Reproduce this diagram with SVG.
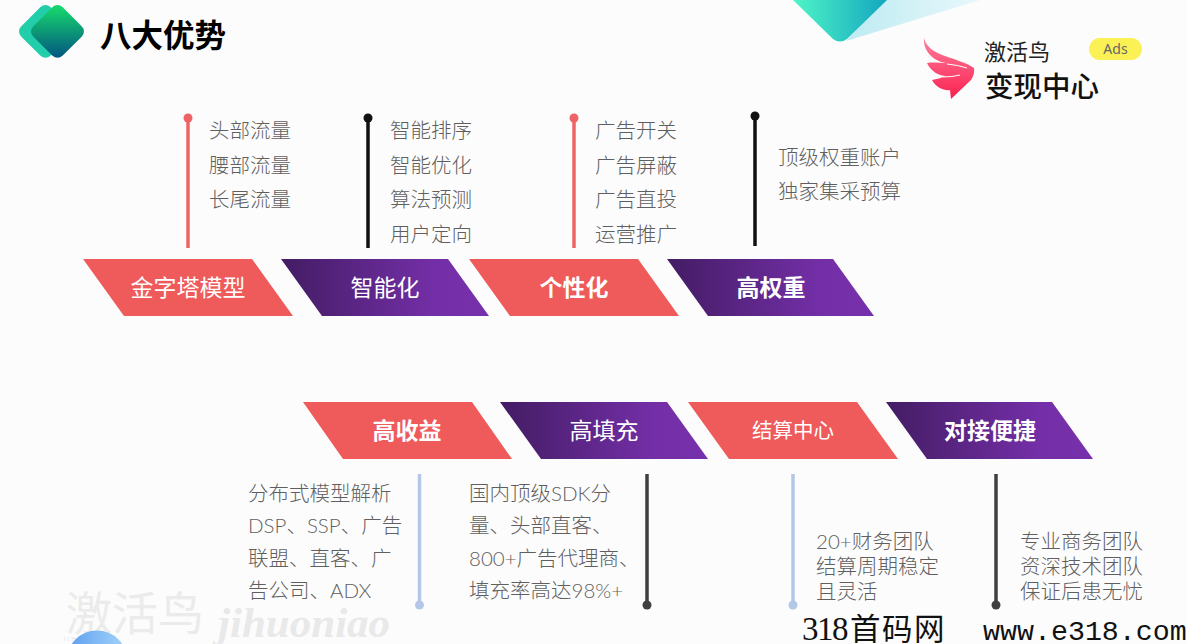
<svg xmlns="http://www.w3.org/2000/svg" width="1187" height="644" viewBox="0 0 1187 644">
<style>
text{font-family:"Noto Sans CJK SC","Noto Sans",sans-serif}
.t{font-size:20.5px;fill:#5f5f5f;font-family:Lato,"Noto Sans CJK SC",sans-serif;font-weight:300}
.l{font-size:23px;fill:#fff;text-anchor:middle}
.b{font-weight:700}
.r{fill:#ef5a5a}
.p{fill:url(#pg)}
.st{stroke-width:3.5;fill:none}
</style>
<defs>
<linearGradient id="pg" x1="0" x2="1" y1="0" y2="0"><stop offset="0" stop-color="#431c63"/><stop offset=".75" stop-color="#742fa8"/><stop offset="1" stop-color="#7730ab"/></linearGradient>
<linearGradient id="dg" x1="0" y1="0" x2="1" y2="1"><stop offset=".1" stop-color="#16d46c"/><stop offset=".9" stop-color="#035c80"/></linearGradient>
<linearGradient id="tg" x1="0" y1="0" x2="1" y2="0"><stop offset="0" stop-color="#4ef5c6"/><stop offset="1" stop-color="#14a6c0"/></linearGradient>
<linearGradient id="sg" x1="0" y1="0" x2="1" y2="0"><stop offset="0" stop-color="#bdebf2"/><stop offset="1" stop-color="#e8f8fb"/></linearGradient>
<linearGradient id="wg" x1="0" y1="0" x2="0" y2="1"><stop offset="0" stop-color="#ff7f9c"/><stop offset="1" stop-color="#fb1f4f"/></linearGradient>
<linearGradient id="cg" x1="0" y1="0" x2="1" y2="0"><stop offset="0" stop-color="#5c9eee"/><stop offset="1" stop-color="#a5d5fb"/></linearGradient>
</defs>
<rect width="1187" height="644" fill="#fcfcfc"/>
<g id="decor-top">
<path d="M846 41L980 0H885Z" fill="url(#sg)"/>
<path d="M793 0H887L847 39Q840 44 833 39Z" fill="url(#tg)"/>
</g>
<g id="watermark">
<text x="66" y="630" font-size="46" fill="#ebebeb">激活鸟</text>
<text x="63" y="641" font-size="7" letter-spacing="1.500" fill="#e6e6e6" style="font-family:'Liberation Serif',serif">JIHUONIAO</text>
<text x="218" y="637" font-size="43" font-style="italic" font-weight="700" style="font-family:'Liberation Serif',serif" fill="#e9e9e9">jihuoniao</text>
<circle cx="97" cy="661" r="30.500" fill="url(#cg)"/>
</g>
<g id="title">
<rect x="24.700" y="10.700" width="41.500" height="41.500" rx="7" transform="rotate(45 45.500 31.500)" fill="#22cdaa"/>
<rect x="36.700" y="10.700" width="41.500" height="41.500" rx="7" transform="rotate(45 57.500 31.500)" fill="url(#dg)"/>
<text x="100" y="47" font-size="31.500" class="b" fill="#000">八大优势</text>
</g>
<g id="brand">
<path d="M924 38C926 47 934 52 945 56C956 60 967 63 974 68Q975 74 971 80L951 99L950 90C945 91 936 88 932 80C936 79 942 78 946 76C940 76 931 72 927 63C933 62 940 63 946 63C934 61 923 52 924 38Z" fill="url(#wg)"/>
<path d="M943 77Q952 77 960 75M947 64Q958 65 967 68" stroke="#fff" stroke-width="1" fill="none"/>
<text x="984" y="60" font-size="22" fill="#222">激活鸟</text>
<text x="985" y="97" font-size="28.500" font-weight="500" fill="#111">变现中心</text>
<rect x="1089" y="38" width="53" height="22" rx="11" fill="#fbf154"/>
<text x="1115.500" y="54" font-size="14" fill="#666" text-anchor="middle" style="font-family:'Noto Sans',sans-serif">Ads</text>
</g>
<g id="connectors">
<path class="st" stroke="#ee6464" d="M188 118V248"/><circle cx="188" cy="118" r="4.500" fill="#ee6464"/>
<path class="st" stroke="#111" d="M368 118V248"/><circle cx="368" cy="118" r="4.500" fill="#111"/>
<path class="st" stroke="#ee6464" d="M574 118V248"/><circle cx="574" cy="118" r="4.500" fill="#ee6464"/>
<path class="st" stroke="#111" d="M755 116V246"/><circle cx="755" cy="116" r="4.500" fill="#111"/>
<path class="st" stroke="#b4c7e7" d="M419.500 474V604"/><circle cx="419.500" cy="605" r="4.500" fill="#b4c7e7"/>
<path class="st" stroke="#404040" d="M647 474V604"/><circle cx="647" cy="605" r="4.500" fill="#404040"/>
<path class="st" stroke="#b4c7e7" d="M793 474V604"/><circle cx="793" cy="605" r="4.500" fill="#b4c7e7"/>
<path class="st" stroke="#404040" d="M996 474V604"/><circle cx="996" cy="605" r="4.500" fill="#404040"/>
</g>
<g id="n1"><path class="r" d="M83 259H252L293 316H124Z"/><text class="l" x="188" y="295.500">金字塔模型</text>
<text class="t"><tspan x="209" y="137.500">头部流量</tspan><tspan x="209" y="172.500">腰部流量</tspan><tspan x="209" y="206.500">长尾流量</tspan></text></g>
<g id="n2"><path class="p" d="M281 259H448L489 316H322Z"/><text class="l" x="385" y="295.500">智能化</text>
<text class="t"><tspan x="390" y="137.500">智能排序</tspan><tspan x="390" y="172.500">智能优化</tspan><tspan x="390" y="206.500">算法预测</tspan><tspan x="390" y="241.500">用户定向</tspan></text></g>
<g id="n3"><path class="r" d="M469 259H638L679 316H510Z"/><text class="l b" x="574" y="295.500">个性化</text>
<text class="t"><tspan x="595" y="137.500">广告开关</tspan><tspan x="595" y="172.500">广告屏蔽</tspan><tspan x="595" y="206.500">广告直投</tspan><tspan x="595" y="241.500">运营推广</tspan></text></g>
<g id="n4"><path class="p" d="M667 259H833L874 316H708Z"/><text class="l b" x="771" y="295.500">高权重</text>
<text class="t"><tspan x="778" y="164.500">顶级权重账户</tspan><tspan x="778" y="198.500">独家集采预算</tspan></text></g>
<g id="n5"><path class="r" d="M303 402H472L512 459H343Z"/><text class="l b" x="407" y="438.500">高收益</text>
<text class="t"><tspan x="248" y="500.500">分布式模型解析</tspan><tspan x="248" y="532.500">DSP、SSP、广告</tspan><tspan x="248" y="565.500">联盟、直客、广</tspan><tspan x="248" y="597.500">告公司、ADX</tspan></text></g>
<g id="n6"><path class="p" d="M500 402H667L708 459H541Z"/><text class="l" x="604" y="438.500">高填充</text>
<text class="t"><tspan x="469" y="500.500">国内顶级SDK分</tspan><tspan x="469" y="532.500">量、头部直客、</tspan><tspan x="469" y="565.500">800+广告代理商、</tspan><tspan x="469" y="597.500">填充率高达98%+</tspan></text></g>
<g id="n7"><path class="r" d="M688 402H857L898 459H729Z"/><text class="l" x="793" y="438" style="font-size:20.500px">结算中心</text>
<text class="t"><tspan x="816" y="549">20+财务团队</tspan><tspan x="816" y="574">结算周期稳定</tspan><tspan x="816" y="598.500">且灵活</tspan></text></g>
<g id="n8"><path class="p" d="M886 402H1052L1093 459H927Z"/><text class="l b" x="990" y="438.500">对接便捷</text>
<text class="t"><tspan x="1020" y="549">专业商务团队</tspan><tspan x="1020" y="574">资深技术团队</tspan><tspan x="1020" y="598.500">保证后患无忧</tspan></text></g>
<g id="footer" fill="#111">
<text x="802" y="640" style="font-family:'Liberation Serif','Noto Sans CJK SC',serif"><tspan font-size="33" letter-spacing="-1.500">318</tspan><tspan font-size="30.500" letter-spacing="1.500" dx="3">首码网</tspan></text>
<text x="983" y="640" font-size="28.300" style="font-family:'Liberation Mono',monospace">www.e318.com</text>
</g>
</svg>
